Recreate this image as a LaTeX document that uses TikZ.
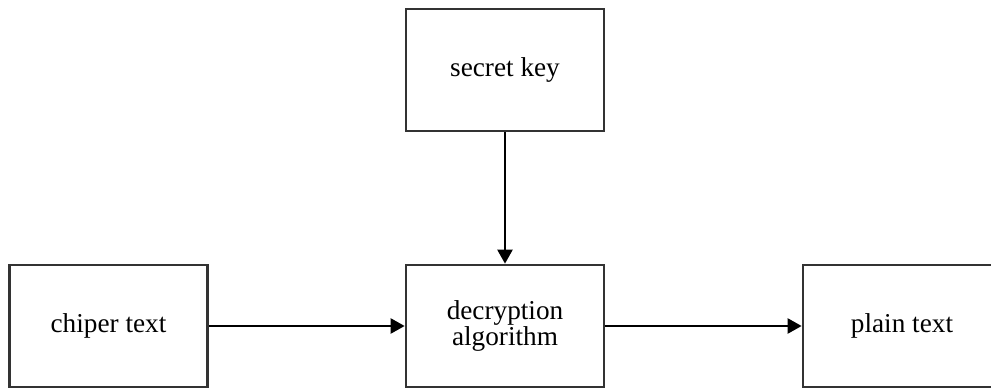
\documentclass[tikz,border=0pt]{standalone}
\usepackage{fontspec}
\setmainfont{Liberation Serif}
\usetikzlibrary{arrows.meta,positioning}
\definecolor{edge}{HTML}{333333}

\begin{document}
\begin{tikzpicture}[>={Triangle[length=8pt,width=8.5pt]},
  box/.style={draw=edge,line width=1.5pt,minimum width=3.96cm,minimum height=2.44cm,
    align=center,font=\fontsize{15.5}{11.5}\selectfont},
  link/.style={->,line width=1.5pt,black}]
  \useasboundingbox (0,0) rectangle (19.82,-7.8);

  \node[box] (key) at (10.1,-1.4) {secret key};
  \node[box] (dec) at (10.1,-6.52) {decryption\\algorithm};
  \node[box] (cip) at (2.17,-6.52) {chiper text};
  \node[box] (pln) at (18.04,-6.52) {plain text};

  \draw[link] (key) -- (dec);
  \draw[link] (cip) -- (dec);
  \draw[link] (dec) -- (pln);
\end{tikzpicture}
\end{document}
